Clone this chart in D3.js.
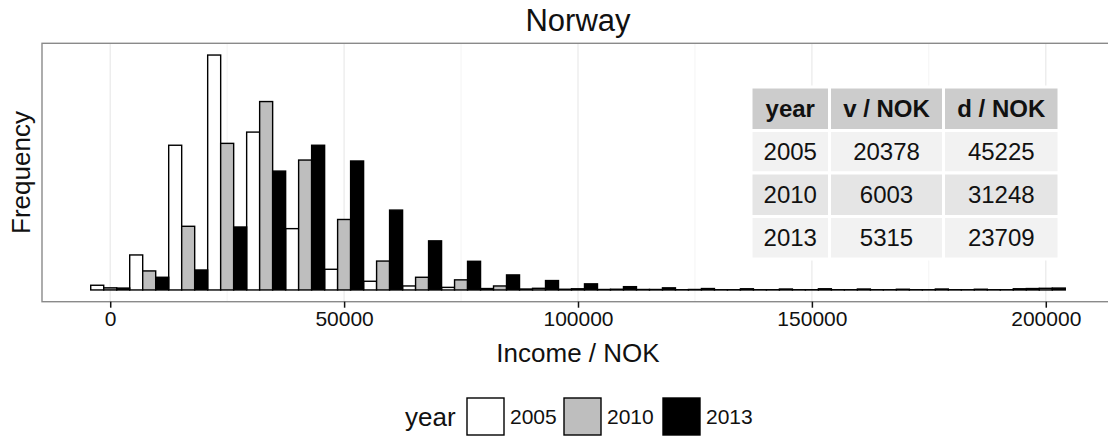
<!DOCTYPE html>
<html>
<head>
<meta charset="utf-8">
<script src="https://cdn.jsdelivr.net/npm/d3@7"></script>
<style>
  body { margin: 0; background: #fff; }
  svg { display: block; font-family: "Liberation Sans", Arial, Helvetica, sans-serif; }
</style>
</head>
<body>
<div id="chart"></div>
<script>
// histogram bins (mid points, NOK), binwidth = 200000 / 24
var binMids = [0, 8333, 16667, 25000, 33333, 41667, 50000, 58333, 66667, 75000, 83333, 91667,
               100000, 108333, 116667, 125000, 133333, 141667, 150000, 158333, 166667, 175000,
               183333, 191667, 200000]
var binWidth = 8333.33

var years = ['2005', '2010', '2013']
var yearFill = { '2005': '#ffffff', '2010': '#bebebe', '2013': '#000000' }

// frequencies (relative units, y axis has no labels)
var freq2005 = [2.0, 14.9, 61.6, 100, 67.2, 26.1, 8.8, 3.7, 1.7, 1.1, 0.6, 0.4, 0.3, 0.2, 0.2,
                0.1, 0.1, 0.1, 0.1, 0.1, 0.1, 0.1, 0.1, 0.1, 0.6]
var freq2010 = [0.9, 8.1, 27.1, 62.4, 80.2, 55.3, 30.0, 12.3, 5.4, 4.3, 1.7, 0.7, 0.5, 0.3, 0.2,
                0.2, 0.1, 0.1, 0.1, 0.1, 0.1, 0.1, 0.1, 0.1, 0.7]
var freq2013 = [0.8, 5.4, 8.5, 26.8, 50.6, 61.6, 54.9, 34.0, 20.9, 12.2, 6.4, 4.0, 2.6, 1.4, 0.9,
                0.6, 0.5, 0.4, 0.5, 0.4, 0.3, 0.4, 0.3, 0.5, 0.8]

var xTicks = [0, 50000, 100000, 150000, 200000]
var xMinor = [25000, 75000, 125000, 175000]

var tableHeader = ['year', 'v / NOK', 'd / NOK']
var tableRows = [['2005', '20378', '45225'],
                 ['2010', '6003', '31248'],
                 ['2013', '5315', '23709']]

var W = 1108, H = 437
var margin = { top: 43.3, left: 42, bottom: 301.7, right: 1114 }

var svg = d3.select('#chart').append('svg')
    .attr('width', W)
    .attr('height', H)

// ggplot style 5% expansion around the bins
var lo = binMids[0] - binWidth / 2, hi = binMids[binMids.length - 1] + binWidth / 2
var pad = (hi - lo) * 0.05
var x = d3.scaleLinear()
    .domain([lo - pad, hi + pad])
    .range([margin.left, margin.right])

var maxF = d3.max([freq2005, freq2010, freq2013], function (a) { return d3.max(a) })
var y = d3.scaleLinear()
    .domain([-maxF * 0.05, maxF * 1.05])
    .range([margin.bottom, margin.top])

var dodge = d3.scaleBand()
    .domain(years)
    .range([0, x(binWidth) - x(0)])

// grid
svg.append('g').selectAll('line.minor')
    .data(xMinor)
    .enter().append('line')
    .attr('x1', function (d) { return x(d) })
    .attr('x2', function (d) { return x(d) })
    .attr('y1', margin.top).attr('y2', margin.bottom)
    .attr('stroke', '#f4f4f4').attr('stroke-width', 1)

svg.append('g').selectAll('line.major')
    .data(xTicks)
    .enter().append('line')
    .attr('x1', function (d) { return x(d) })
    .attr('x2', function (d) { return x(d) })
    .attr('y1', margin.top).attr('y2', margin.bottom)
    .attr('stroke', '#ebebeb').attr('stroke-width', 1.3)

// bars
var series = { '2005': freq2005, '2010': freq2010, '2013': freq2013 }
var bars = []
years.forEach(function (yr) {
  series[yr].forEach(function (v, i) { bars.push({ year: yr, mid: binMids[i], value: v }) })
})

svg.append('g').selectAll('rect')
    .data(bars)
    .enter().append('rect')
    .attr('x', function (d) { return x(d.mid - binWidth / 2) + dodge(d.year) })
    .attr('width', dodge.bandwidth())
    .attr('y', function (d) { return y(d.value) })
    .attr('height', function (d) { return y(0) - y(d.value) })
    .attr('fill', function (d) { return yearFill[d.year] })
    .attr('stroke', '#000')
    .attr('stroke-width', 1.4)

// table in the panel
var colW = [78.5, 114, 115.5], rowH = [43.5, 42.5, 43.5, 42.5]
var tx0 = 751, ty0 = 87
var colX = [tx0]; colW.forEach(function (w, i) { colX.push(colX[i] + w) })
var rowY = [ty0]; rowH.forEach(function (h, i) { rowY.push(rowY[i] + h) })
var rowFill = ['#cccccc', '#f2f2f2', '#e5e5e5', '#f2f2f2']
var allRows = [tableHeader].concat(tableRows)

var tg = svg.append('g')
allRows.forEach(function (row, r) {
  row.forEach(function (txt, c) {
    tg.append('rect')
        .attr('x', colX[c]).attr('y', rowY[r])
        .attr('width', colW[c]).attr('height', rowH[r])
        .attr('fill', rowFill[r])
        .attr('stroke', '#fff').attr('stroke-width', 3)
    tg.append('text')
        .attr('x', (colX[c] + colX[c + 1]) / 2)
        .attr('y', rowY[r] + rowH[r] / 2 + 8.5)
        .attr('text-anchor', 'middle')
        .attr('font-size', 24)
        .attr('font-weight', r == 0 ? 'bold' : 'normal')
        .attr('fill', '#111')
        .text(txt)
  })
})

// panel border
svg.append('rect')
    .attr('x', margin.left).attr('y', margin.top)
    .attr('width', margin.right - margin.left)
    .attr('height', margin.bottom - margin.top)
    .attr('fill', 'none')
    .attr('stroke', '#8a8a8a').attr('stroke-width', 1.4)

// x axis
var xAxis = svg.append('g')
    .attr('transform', 'translate(0,' + margin.bottom + ')')
    .call(d3.axisBottom(x).tickValues(xTicks).tickSize(6).tickPadding(3).tickFormat(d3.format('d')))
xAxis.select('.domain').remove()
xAxis.selectAll('line').attr('stroke', '#111').attr('stroke-width', 1.5)
xAxis.selectAll('text')
    .attr('font-size', 21)
    .attr('fill', '#111')
    .attr('font-family', '"Liberation Sans", Arial, sans-serif')

// titles
svg.append('text')
    .attr('x', (margin.left + margin.right) / 2).attr('y', 31)
    .attr('text-anchor', 'middle').attr('font-size', 31).attr('fill', '#111')
    .text('Norway')

svg.append('text')
    .attr('x', (margin.left + margin.right) / 2).attr('y', 362)
    .attr('text-anchor', 'middle').attr('font-size', 26).attr('fill', '#111')
    .text('Income / NOK')

svg.append('text')
    .attr('transform', 'translate(30,' + (margin.top + margin.bottom) / 2 + ') rotate(-90)')
    .attr('text-anchor', 'middle').attr('font-size', 26).attr('fill', '#111')
    .text('Frequency')

// legend
var lg = svg.append('g').attr('transform', 'translate(405,0)')
lg.append('text').attr('x', 0).attr('y', 426).attr('font-size', 26).attr('fill', '#111').text('year')
var keyX = [62, 159, 258]
years.forEach(function (yr, i) {
  lg.append('rect')
      .attr('x', keyX[i]).attr('y', 398)
      .attr('width', 37).attr('height', 37)
      .attr('fill', yearFill[yr])
      .attr('stroke', '#000').attr('stroke-width', 1.4)
  lg.append('text')
      .attr('x', keyX[i] + 43).attr('y', 424)
      .attr('font-size', 21).attr('fill', '#111')
      .text(yr)
})
</script>
</body>
</html>
